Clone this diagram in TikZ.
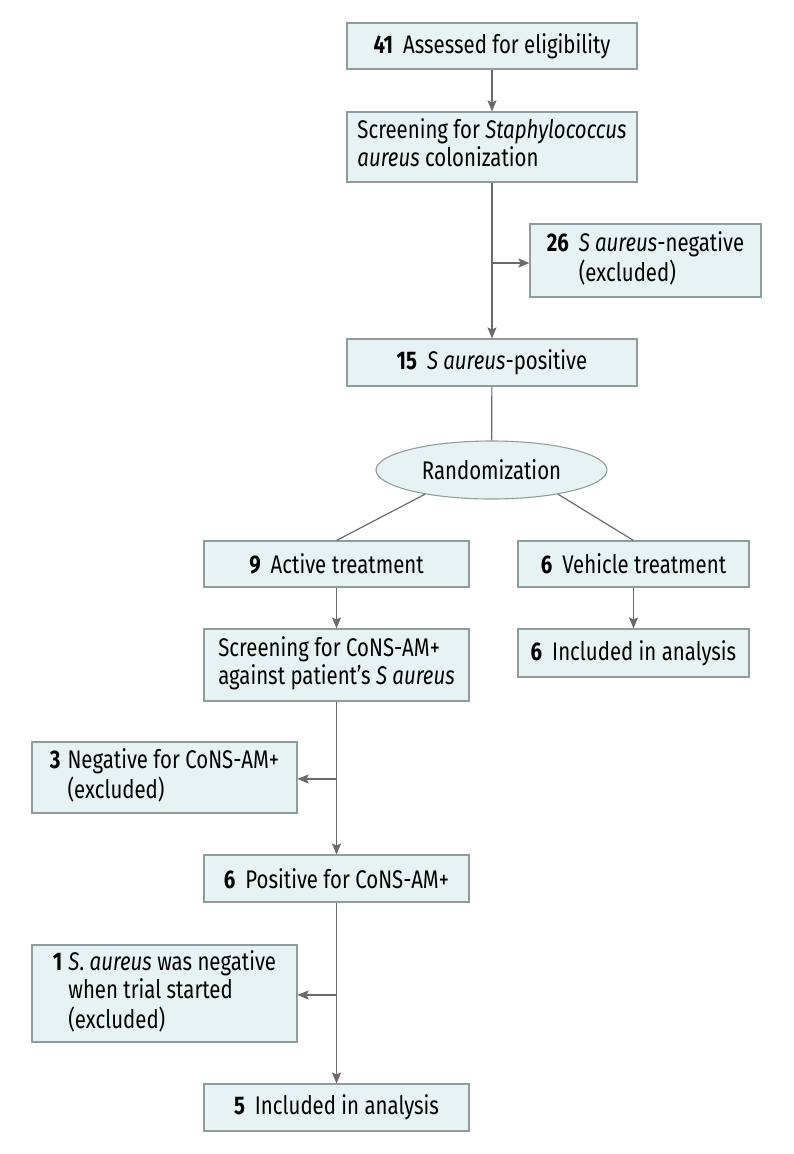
\documentclass[tikz,border=0pt]{standalone}
\usepackage{fontspec}
\setmainfont{Fira Sans}[FakeStretch=0.8]
\usetikzlibrary{shapes.geometric}
\usetikzlibrary{arrows.meta}
\usepackage{xcolor}
\definecolor{boxfill}{HTML}{E7F3F3}
\definecolor{boxline}{HTML}{8E9E9E}
\definecolor{flowgray}{HTML}{6A6A6A}
\newcommand{\cnt}[1]{\textbf{#1}\hspace{10pt}}

\begin{document}
\begin{tikzpicture} [x=1pt, y=-1pt,
  flowbox/.style={draw=boxline, fill=boxfill, line width=1.1pt, inner sep=0pt,
    font=\fontsize{25.5}{27}\selectfont, align=left},
  flowline/.style={draw=flowgray, line width=1.2pt},
  flowarrow/.style={flowline, -{Stealth[length=11pt, width=9pt, inset=2pt]}}]
\useasboundingbox (0,0) rectangle (794,1154);
% top part
\node[flowbox, minimum width=290pt, minimum height=46pt] (assess) at (492,46) {\cnt{41}Assessed for eligibility};
\node[flowbox, minimum width=290pt, minimum height=70pt] (screenSa) at (492,147)
  {\begin{tabular}{@{}l@{}}Screening for \textit{Staphylococcus}\\ \textit{aureus} colonization\end{tabular}};
\node[flowbox, minimum width=231pt, minimum height=73pt] (saNeg) at (645.5,260.5)
  {\begin{tabular}{@{}l@{\hspace{10pt}}l@{}}\textbf{26} & \textit{S aureus}-negative\\ & (excluded)\end{tabular}};
\node[flowbox, minimum width=290pt, minimum height=47pt] (saPos) at (492,362.5) {\cnt{15}\textit{S aureus}-positive};
\node[flowbox, ellipse, minimum width=231pt, minimum height=58pt] (rand) at (491.5,470) {Randomization};
% two arms
\node[flowbox, minimum width=265pt, minimum height=46pt] (active) at (336.5,564) {\cnt{9}Active treatment};
\node[flowbox, minimum width=231pt, minimum height=46pt] (vehicle) at (633.5,564) {\cnt{6}Vehicle treatment};
\node[flowbox, minimum width=265pt, minimum height=72pt] (screenCons) at (336.5,665)
  {\begin{tabular}{@{}l@{}}Screening for CoNS-AM+\\ against patient’s \textit{S aureus}\end{tabular}};
\node[flowbox, minimum width=231pt, minimum height=48pt] (inclVeh) at (633.5,653) {\cnt{6}Included in analysis};
\node[flowbox, minimum width=265pt, minimum height=71pt] (consNeg) at (164.5,777.5)
  {\begin{tabular}{@{}l@{\hspace{7pt}}l@{}}\textbf{3} & Negative for CoNS-AM+\\ & (excluded)\end{tabular}};
\node[flowbox, minimum width=265pt, minimum height=47pt] (consPos) at (336.5,878.5) {\cnt{6}Positive for CoNS-AM+};
\node[flowbox, minimum width=265pt, minimum height=97pt] (saLost) at (164.5,993.5)
  {\begin{tabular}{@{}l@{\hspace{6pt}}l@{}}\textbf{1} & \textit{S}. \textit{aureus} was negative\\ & when trial started\\ & (excluded)\end{tabular}};
\node[flowbox, minimum width=265pt, minimum height=47pt] (inclAct) at (336.5,1107.5) {\cnt{5}Included in analysis};
% branch points
\coordinate (br1) at (492,263);
\coordinate (br2) at (336.5,779);
\coordinate (br3) at (336.5,995);
% connectors
\draw[flowarrow] (assess) -- (screenSa);
\draw[flowarrow] (screenSa) -- (saPos);
\draw[flowarrow] (br1) -- (br1 -| saNeg.west);
\draw[flowline] (saPos) -- (rand);
\draw[flowline] (rand.200) -- (active.north);
\draw[flowline] (rand.340) -- (vehicle.north);
\draw[flowarrow] (active) -- (screenCons);
\draw[flowarrow] (vehicle) -- (inclVeh);
\draw[flowarrow] (screenCons) -- (consPos);
\draw[flowarrow] (br2) -- (br2 -| consNeg.east);
\draw[flowarrow] (consPos) -- (inclAct);
\draw[flowarrow] (br3) -- (br3 -| saLost.east);
\end{tikzpicture}
\end{document}
